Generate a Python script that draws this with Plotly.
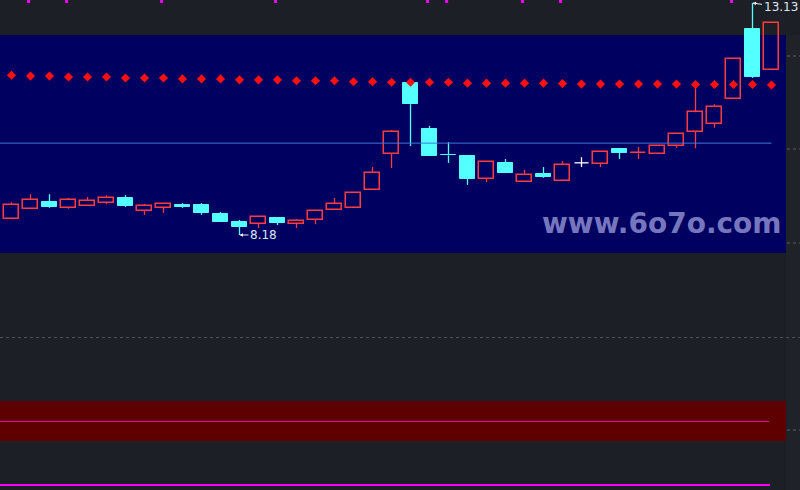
import plotly.graph_objects as go

# ---------------- data ----------------
idx = list(range(41))
opens  = [8.52, 8.74, 8.88, 8.76, 8.80, 8.86, 8.97, 8.69, 8.76, 8.82,
          8.82, 8.63, 8.46, 8.42, 8.54, 8.42, 8.50, 8.71, 8.76, 9.14,
          9.91, 11.42, 10.44, 9.89, 9.87, 9.38, 9.72, 9.31, 9.48, 9.33,
          9.72, 9.70, 10.02, 9.92, 9.91, 10.08, 10.38, 10.55, 11.08, 12.58,
          11.70]
highs  = [8.88, 9.05, 9.05, 8.97, 8.99, 9.03, 9.03, 8.84, 8.86, 8.86,
          8.86, 8.67, 8.50, 8.56, 8.56, 8.51, 8.69, 8.97, 9.08, 9.63,
          10.42, 11.42, 10.51, 10.16, 9.87, 9.74, 9.80, 9.57, 9.63, 9.76,
          9.84, 9.95, 10.04, 10.06, 10.08, 10.34, 11.36, 10.97, 11.93, 13.13,
          12.70]
lows   = [8.52, 8.74, 8.76, 8.74, 8.80, 8.84, 8.78, 8.61, 8.65, 8.76,
          8.61, 8.46, 8.18, 8.33, 8.39, 8.33, 8.41, 8.71, 8.76, 9.14,
          9.61, 10.08, 9.87, 9.72, 9.25, 9.31, 9.50, 9.31, 9.40, 9.33,
          9.63, 9.63, 9.80, 9.80, 9.91, 10.04, 10.03, 10.47, 11.08, 11.53,
          11.70]
closes = [8.82, 8.93, 8.78, 8.93, 8.91, 8.97, 8.80, 8.80, 8.84, 8.78,
          8.65, 8.46, 8.35, 8.56, 8.44, 8.48, 8.69, 8.84, 9.08, 9.50,
          10.38, 10.97, 9.87, 9.88, 9.38, 9.74, 9.50, 9.46, 9.42, 9.67,
          9.72, 9.95, 9.93, 9.93, 10.08, 10.34, 10.80, 10.91, 11.93, 11.55,
          12.70]
dots   = [11.59, 11.57, 11.57, 11.55, 11.55, 11.55, 11.53, 11.53, 11.53, 11.51,
          11.51, 11.51, 11.49, 11.49, 11.49, 11.47, 11.47, 11.47, 11.45, 11.45,
          11.44, 11.44, 11.44, 11.44, 11.42, 11.42, 11.42, 11.42, 11.42, 11.41,
          11.40, 11.40, 11.40, 11.40, 11.40, 11.40, 11.39, 11.39, 11.39, 11.39,
          11.38]
event_idx = [1, 3, 8, 14, 22, 23, 27, 29, 38]
ref_level = 10.14
hi_label = "13.13"
lo_label = "8.18"
watermark = "www.6o7o.com"

# ---------------- styles ----------------
BG = "#1c1f26"
NAVY = "#000060"
DARKRED = "#5e0000"
RED = "#ff3c3c"
CYAN = "#54ffff"
WHITE = "#ffffff"
MAGENTA = "#ff00ff"
BODY_W = 0.74

x_range = [-11.5 / 19, (800 - 11.5) / 19]
y_range = [2.739, 13.194]

up = [i for i in idx if closes[i] > opens[i]]
dn = [i for i in idx if closes[i] < opens[i]]
eq = [i for i in idx if closes[i] == opens[i]]


def wick_path(ids):
    xs, ys = [], []
    for i in ids:
        top = max(opens[i], closes[i])
        bot = min(opens[i], closes[i])
        if highs[i] > top:
            xs += [i, i, None]
            ys += [highs[i], top, None]
        if lows[i] < bot:
            xs += [i, i, None]
            ys += [bot, lows[i], None]
    return xs, ys


fig = go.Figure()

for ids, col in [(up, RED), (dn, CYAN)]:
    wx, wy = wick_path(ids)
    fig.add_trace(go.Scatter(x=wx, y=wy, mode="lines",
                             line=dict(color=col, width=1.3),
                             hoverinfo="skip", showlegend=False))

# doji (open == close): cross
dx, dy = [], []
for i in eq:
    dx += [i, i, None, i - BODY_W / 2, i + BODY_W / 2, None]
    dy += [highs[i], lows[i], None, closes[i], closes[i], None]
fig.add_trace(go.Scatter(x=dx, y=dy, mode="lines",
                         line=dict(color=WHITE, width=1.3),
                         hoverinfo="skip", showlegend=False))

# up bodies: hollow red
fig.add_trace(go.Bar(x=up, y=[closes[i] - opens[i] for i in up],
                     base=[opens[i] for i in up], width=BODY_W,
                     marker=dict(color="rgba(0,0,0,0)",
                                 line=dict(color=RED, width=1.5)),
                     showlegend=False))
# down bodies: solid cyan
fig.add_trace(go.Bar(x=dn, y=[opens[i] - closes[i] for i in dn],
                     base=[closes[i] for i in dn], width=BODY_W,
                     marker=dict(color=CYAN, line=dict(color=CYAN, width=1)),
                     showlegend=False))

# reference line
fig.add_trace(go.Scatter(x=[x_range[0], idx[-1]], y=[ref_level, ref_level],
                         mode="lines", line=dict(color="#3c78dc", width=1),
                         hoverinfo="skip", showlegend=False))

# red dots
fig.add_trace(go.Scatter(x=idx, y=dots, mode="markers",
                         marker=dict(symbol="diamond", size=7, color="#ff1010",
                                     line=dict(width=0)),
                         showlegend=False))

# magenta event marks along the top edge
fig.add_trace(go.Scatter(x=[i - 0.1 for i in event_idx],
                         y=[y_range[1] - 0.03] * len(event_idx),
                         mode="markers", cliponaxis=False,
                         marker=dict(symbol="square", size=3, color=MAGENTA,
                                     line=dict(width=0)),
                         showlegend=False))

shapes = [
    dict(type="rect", xref="paper", yref="paper", x0=0, x1=786 / 800,
         y0=1 - 253 / 490, y1=1 - 35 / 490, fillcolor=NAVY, line_width=0,
         layer="below"),
    dict(type="rect", xref="paper", yref="paper", x0=786 / 800, x1=1,
         y0=0, y1=1 - 35 / 490, fillcolor="#1f2228", line_width=0,
         layer="below"),
    dict(type="rect", xref="paper", yref="paper", x0=0, x1=786 / 800,
         y0=1 - 441 / 490, y1=1 - 401 / 490, fillcolor=DARKRED, line_width=0,
         layer="below"),
    dict(type="line", xref="paper", yref="paper", x0=0, x1=769 / 800,
         y0=1 - 421.5 / 490, y1=1 - 421.5 / 490,
         line=dict(color="#e0109a", width=1)),
    dict(type="line", xref="paper", yref="paper", x0=0, x1=770 / 800,
         y0=1 - 485 / 490, y1=1 - 485 / 490,
         line=dict(color=MAGENTA, width=2)),
    dict(type="line", xref="paper", yref="paper", x0=0, x1=1,
         y0=1 - 337.5 / 490, y1=1 - 337.5 / 490,
         line=dict(color="#4a4e57", width=1, dash="dot"), layer="below"),
]
for py in [56, 149, 243, 430]:
    shapes.append(dict(type="line", xref="paper", yref="paper",
                       x0=787 / 800, x1=1, y0=1 - py / 490, y1=1 - py / 490,
                       line=dict(color="#5a5e66", width=1, dash="dot")))

hi_i = highs.index(max(highs))
lo_i = lows.index(min(lows))
annotations = [
    dict(x=hi_i, y=highs[hi_i], text=hi_label, showarrow=True, ax=28, ay=4,
         arrowhead=2, arrowsize=0.7, arrowwidth=1, arrowcolor="#e8eef5",
         standoff=0, font=dict(family="DejaVu Sans", size=12, color="#dce6f0")),
    dict(x=lo_i, y=lows[lo_i], text=lo_label, showarrow=True, ax=24, ay=0,
         arrowhead=2, arrowsize=0.7, arrowwidth=1, arrowcolor="#e8eef5",
         standoff=0, font=dict(family="DejaVu Sans", size=12, color="#dce6f0")),
    dict(xref="paper", yref="paper", x=662 / 800, y=1 - 224 / 490,
         text="<b>" + watermark + "</b>", showarrow=False, xanchor="center",
         yanchor="middle",
         font=dict(family="DejaVu Sans", size=28,
                   color="rgba(200,200,255,0.62)")),
]

fig.update_layout(
    width=800, height=490, margin=dict(l=0, r=0, t=0, b=0),
    paper_bgcolor=BG, plot_bgcolor=BG, barmode="overlay", bargap=0,
    showlegend=False, shapes=shapes, annotations=annotations,
    xaxis=dict(range=x_range, visible=False, fixedrange=True),
    yaxis=dict(range=y_range, visible=False, fixedrange=True),
)

fig.write_html("out.html",
               config={"displayModeBar": False},
               post_script="document.body.style.margin='0';"
                           "document.body.style.overflow='hidden';"
                           "document.body.style.background='" + BG + "';")
